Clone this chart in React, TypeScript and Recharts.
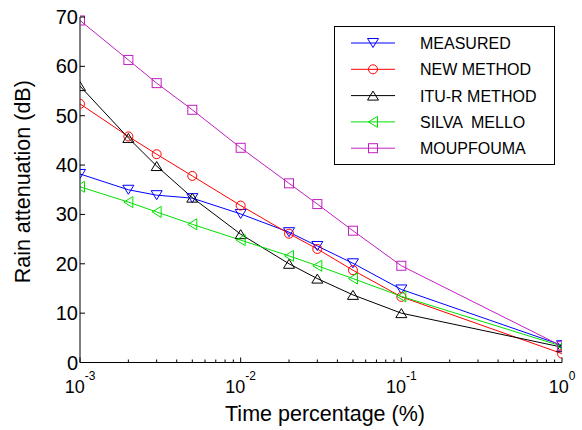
import React from "react"
import { LineChart, Line, XAxis, YAxis } from "recharts"

const timePct = [0.001, 0.002, 0.003, 0.005, 0.01, 0.02, 0.03, 0.05, 0.1, 1]
const measured = [38.2, 35.0, 33.9, 33.3, 30.1, 26.4, 23.6, 20.1, 14.8, 3.5]
const newMethod = [52.4, 45.8, 42.2, 37.8, 31.8, 26.1, 23.0, 18.7, 13.3, 1.8]
const ituR = [56.0, 45.5, 39.8, 33.4, 26.0, 20.0, 17.0, 13.7, 10.0, 3.1]
const silvaMello = [35.6, 32.5, 30.5, 28.0, 24.8, 21.6, 19.6, 17.0, 13.4, 3.3]
const moupfouma = [69.3, 61.3, 56.6, 51.2, 43.5, 36.3, 32.1, 26.7, 19.6, 3.3]

const yTicks = [0, 10, 20, 30, 40, 50, 60, 70]
const xTicks = [
  0.001, 0.002, 0.003, 0.004, 0.005, 0.006, 0.007, 0.008, 0.009,
  0.01, 0.02, 0.03, 0.04, 0.05, 0.06, 0.07, 0.08, 0.09,
  0.1, 0.2, 0.3, 0.4, 0.5, 0.6, 0.7, 0.8, 0.9, 1,
]

const data = timePct.map((t, i) => ({
  t,
  measured: measured[i],
  newMethod: newMethod[i],
  ituR: ituR[i],
  silvaMello: silvaMello[i],
  moupfouma: moupfouma[i],
}))

const FONT = "'Liberation Sans', Arial, Helvetica, sans-serif"
const MAGENTA = "#c020c0"

type Shape = "down" | "circle" | "up" | "left" | "square"

const series: { key: string; name: string; color: string; shape: Shape }[] = [
  { key: "measured", name: "MEASURED", color: "#0000ff", shape: "down" },
  { key: "newMethod", name: "NEW METHOD", color: "#ff0000", shape: "circle" },
  { key: "ituR", name: "ITU-R METHOD", color: "#000000", shape: "up" },
  { key: "silvaMello", name: "SILVA  MELLO", color: "#00e000", shape: "left" },
  { key: "moupfouma", name: "MOUPFOUMA", color: MAGENTA, shape: "square" },
]

function marker(shape: Shape, cx: number, cy: number, color: string, key?: string) {
  const p = { fill: "none", stroke: color, strokeWidth: 1 }
  const s = 5.5
  switch (shape) {
    case "circle":
      return <circle key={key} cx={cx} cy={cy} r={4.5} {...p} />
    case "square":
      return <rect key={key} x={cx - 4.5} y={cy - 4.5} width={9} height={9} {...p} />
    case "down":
      return <polygon key={key} points={`${cx - s},${cy - s + 1} ${cx + s},${cy - s + 1} ${cx},${cy + s - 1}`} {...p} />
    case "up":
      return <polygon key={key} points={`${cx - s},${cy + s - 1} ${cx + s},${cy + s - 1} ${cx},${cy - s + 1}`} {...p} />
    case "left":
      return <polygon key={key} points={`${cx + s - 1},${cy - s} ${cx + s - 1},${cy + s} ${cx - s + 1},${cy}`} {...p} />
  }
}

const isMajor = (v: number) => Math.abs(Math.log10(v) - Math.round(Math.log10(v))) < 1e-9

const BottomTick = (props: any) => {
  const { x, y, payload } = props
  const v = payload.value
  const major = isMajor(v)
  return (
    <g>
      <line x1={x} x2={x} y1={y} y2={y - (major ? 5 : 3)} stroke="#000" strokeWidth={1} />
      {major && (
        <text x={x} y={y + 30} textAnchor="middle" fontFamily={FONT} fontSize={18} fill="#000">
          10
          <tspan dy={-13} fontSize={12}>
            {Math.round(Math.log10(v))}
          </tspan>
        </text>
      )}
    </g>
  )
}

const TopTick = (props: any) => {
  const { x, y, payload } = props
  const major = isMajor(payload.value)
  return <line x1={x} x2={x} y1={y} y2={y + (major ? 5 : 3)} stroke="#000" strokeWidth={1} />
}

const LeftTick = (props: any) => {
  const { x, y, payload } = props
  return (
    <g>
      <line x1={x} x2={x + 5} y1={y} y2={y} stroke="#000" strokeWidth={1} />
      <text x={x - 2} y={y + 7} textAnchor="end" fontFamily={FONT} fontSize={20} fill="#000">
        {payload.value}
      </text>
    </g>
  )
}

const RightTick = (props: any) => {
  const { x, y } = props
  return <line x1={x} x2={x - 5} y1={y} y2={y} stroke="#000" strokeWidth={1} />
}

function LegendBox() {
  return (
    <div
      style={{
        position: "absolute",
        left: 334,
        top: 26,
        width: 219,
        height: 137,
        border: "1px solid #000",
        background: "#fff",
      }}
    >
      <svg width={219} height={137}>
        {series.map((s, i) => {
          const cy = 16 + i * 26.3
          return (
            <g key={s.key}>
              <line x1={16} x2={60} y1={cy} y2={cy} stroke={s.color} strokeWidth={1} />
              {marker(s.shape, 38, cy, s.color)}
              <text x={85} y={cy + 6} fontFamily={FONT} fontSize={16} fill="#000" style={{ whiteSpace: "pre" }}>
                {s.name}
              </text>
            </g>
          )
        })}
      </svg>
    </div>
  )
}

export default function App() {
  // pinned to the page corner so the chart covers the whole 582x430 window
  return (
    <div style={{ position: "fixed", left: 0, top: 0, width: 582, height: 430, background: "#fff" }}>
      <LineChart width={582} height={430} data={data} margin={{ top: 17, right: 20, bottom: 0, left: 0 }}>
        <XAxis
          dataKey="t"
          type="number"
          scale="log"
          domain={[0.001, 1]}
          ticks={xTicks}
          interval={0}
          height={67.5}
          tickSize={0}
          tickMargin={0}
          tickLine={false}
          tick={BottomTick}
          axisLine={{ stroke: "#000", strokeWidth: 1 }}
          allowDataOverflow
          label={{
            content: (p: any) => {
              const vb = p.viewBox
              return (
                <text x={vb.x + vb.width / 2 + 4} y={vb.y + 58.5} textAnchor="middle" fontFamily={FONT} fontSize={21.5} fill="#000">
                  Time percentage (%)
                </text>
              )
            },
          }}
        />
        <XAxis
          xAxisId="top"
          dataKey="t"
          type="number"
          scale="log"
          domain={[0.001, 1]}
          ticks={xTicks}
          interval={0}
          orientation="top"
          height={0}
          tickSize={0}
          tickMargin={0}
          tickLine={false}
          tick={TopTick}
          axisLine={{ stroke: "#000", strokeWidth: 1 }}
          allowDataOverflow
        />
        <YAxis
          type="number"
          domain={[0, 70]}
          ticks={yTicks}
          interval={0}
          width={80}
          tickSize={0}
          tickMargin={0}
          tickLine={false}
          tick={LeftTick}
          axisLine={{ stroke: "#000", strokeWidth: 1 }}
          label={{
            content: (p: any) => {
              const vb = p.viewBox
              const cx = 22.5
              const cy = vb.y + vb.height / 2 - 8
              return (
                <text
                  x={cx}
                  y={cy}
                  transform={`rotate(-90 ${cx} ${cy})`}
                  textAnchor="middle"
                  dominantBaseline="central"
                  fontFamily={FONT}
                  fontSize={21.5}
                  fill="#000"
                >
                  Rain attenuation (dB)
                </text>
              )
            },
          }}
        />
        <YAxis
          yAxisId="right"
          orientation="right"
          type="number"
          domain={[0, 70]}
          ticks={yTicks}
          interval={0}
          width={0}
          tickSize={0}
          tickMargin={0}
          tickLine={false}
          tick={RightTick}
          axisLine={{ stroke: "#000", strokeWidth: 1 }}
        />
        {series.map((s) => (
          <Line
            key={s.key}
            dataKey={s.key}
            name={s.name}
            stroke={s.color}
            strokeWidth={1}
            isAnimationActive={false}
            dot={(p: any) => marker(s.shape, p.cx, p.cy, s.color, `${s.key}-${p.index}`)}
            activeDot={false}
          />
        ))}
      </LineChart>
      <LegendBox />
    </div>
  )
}
